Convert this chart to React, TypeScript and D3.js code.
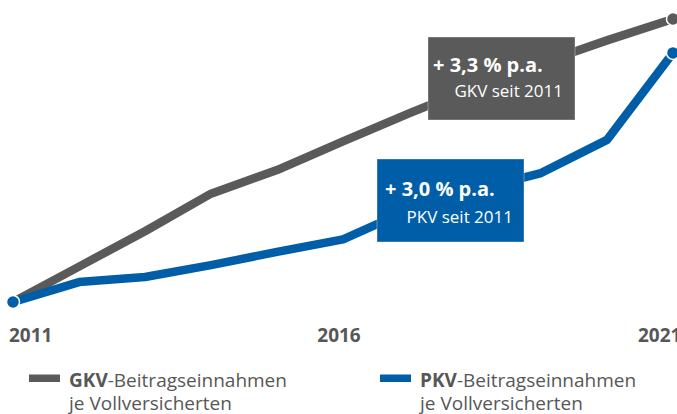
import React from "react";
import * as d3 from "d3";

const years = [2011, 2012, 2013, 2014, 2015, 2016, 2017, 2018, 2019, 2020, 2021];
const gkvValues = [100, 104.8, 109.6, 114.7, 117.9, 121.8, 125.6, 129.2, 132.4, 135.5, 138.4];
const pkvValues = [100, 102.7, 103.4, 105.0, 106.8, 108.5, 112.5, 115.2, 117.5, 122.0, 133.8];
const tickYears = [2011, 2016, 2021];
const seriesNames = ["GKV", "PKV"];
const legendRest = ["-Beitragseinnahmen", "je Vollversicherten"];
const growthLabels = ["+ 3,3 % p.a.", "+ 3,0 % p.a."];
const sinceLabels = ["GKV seit 2011", "PKV seit 2011"];

const GRAY = "#5a5a5a";
const BLUE = "#005ea8";
const TEXT = "#575757";
const FONT = "'Open Sans', 'Noto Sans', sans-serif";

export default function App() {
  const W = 677;
  const H = 414;
  const x = d3.scaleLinear().domain([2011, 2021]).range([13, 673]);
  const y = d3.scaleLinear().domain([100, 140]).range([302, 7.2]);

  const line = d3
    .line<number>()
    .x((_, i) => x(years[i]))
    .y((d) => y(d));

  const series = [
    { name: seriesNames[0], values: gkvValues, color: GRAY },
    { name: seriesNames[1], values: pkvValues, color: BLUE },
  ];

  // annotation boxes (layout anchored on the x scale)
  const boxes = [
    { bx: x(2017) + 19, by: 37, color: GRAY, tx: 5, t2r: 12, b1: 35, b2: 60, i: 0 },
    { bx: x(2016) + 34, by: 159, color: BLUE, tx: 8, t2r: 11, b1: 37, b2: 64, i: 1 },
  ];
  const bw = 147;
  const bh = 83;

  const tickAnchor = (yr: number) =>
    yr === 2011 ? { a: "start", dx: -4 } : yr === 2021 ? { a: "start", dx: -35 } : { a: "middle", dx: -4 };

  return (
    <div style={{ position: "absolute", left: 0, top: 0 }}>
      <svg width={W} height={H} style={{ display: "block", background: "#fff" }}>
        {series.map((s) => (
          <path
            key={s.name}
            d={line(s.values) || ""}
            fill="none"
            stroke={s.color}
            strokeWidth={8.5}
            strokeLinejoin="round"
          />
        ))}
        <circle cx={x(years[0])} cy={y(pkvValues[0])} r={6.5} fill={BLUE} stroke="#fff" strokeWidth={1.5} />
        {series.map((s) => (
          <circle
            key={"end" + s.name}
            cx={x(years[years.length - 1])}
            cy={y(s.values[s.values.length - 1])}
            r={6.5}
            fill={s.color}
            stroke="#fff"
            strokeWidth={1.5}
          />
        ))}
        {boxes.map((b) => (
          <g key={"box" + b.i}>
            <rect x={b.bx} y={b.by} width={bw} height={bh} fill={b.color} stroke="rgba(255,255,255,0.35)" strokeWidth={1} />
            <text x={b.bx + b.tx} y={b.by + b.b1} fill="#fff" fontFamily={FONT} fontWeight={700} fontSize={20}>
              {growthLabels[b.i]}
            </text>
            <text
              x={b.bx + bw - b.t2r}
              y={b.by + b.b2}
              fill="#fff"
              fontFamily={FONT}
              fontSize={17}
              textAnchor="end"
            >
              {sinceLabels[b.i]}
            </text>
          </g>
        ))}
        {tickYears.map((yr) => {
          const t = tickAnchor(yr);
          return (
            <text
              key={yr}
              x={x(yr) + t.dx}
              y={342}
              fill={TEXT}
              fontFamily={FONT}
              fontWeight={700}
              fontSize={19}
              textAnchor={t.a as any}
            >
              {yr}
            </text>
          );
        })}
        {series.map((s, i) => {
          const lx = i === 0 ? 29 : 380;
          return (
            <g key={"leg" + s.name}>
              <rect x={lx} y={374.5} width={31} height={7.5} fill={s.color} />
              <text x={lx + 40} y={387} fill={TEXT} fontFamily={FONT} fontSize={19}>
                <tspan fontWeight={700}>{s.name}</tspan>
                <tspan>{legendRest[0]}</tspan>
              </text>
              <text x={lx + 40} y={410} fill={TEXT} fontFamily={FONT} fontSize={19}>
                {legendRest[1]}
              </text>
            </g>
          );
        })}
      </svg>
    </div>
  );
}
